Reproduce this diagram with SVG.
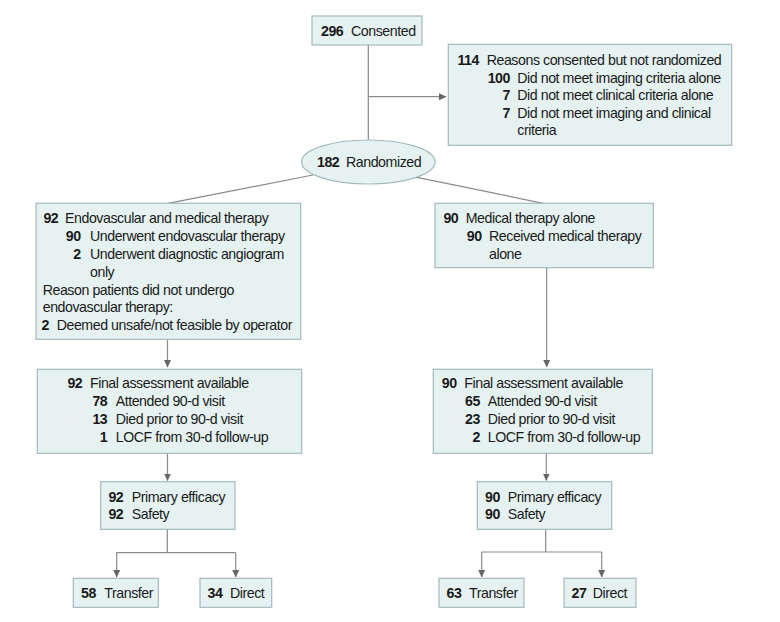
<svg xmlns="http://www.w3.org/2000/svg" width="780" height="622" viewBox="0 0 780 622">
<defs>
<marker id="ah" markerWidth="8" markerHeight="8" refX="7" refY="4" orient="auto" markerUnits="userSpaceOnUse">
<path d="M0,0.5 L7.5,4 L0,7.5 Z" fill="#666"/>
</marker>
</defs>
<style>
.box{fill:#e6f2f2;stroke:#a3babd;stroke-width:1.2}
text{font-family:"Liberation Sans",Arial,sans-serif;font-size:14.2px;letter-spacing:-0.45px;fill:#1a1a1a}
.b{font-weight:bold}
.e{text-anchor:end}
.ln{stroke:#8a8a8a;stroke-width:1.2;fill:none}
.ar{marker-end:url(#ah)}
</style>
<rect width="780" height="622" fill="#fff"/>
<g id="connectors">
<line class="ln" x1="368.3" y1="45" x2="368.3" y2="140"/>
<line class="ln ar" x1="368.3" y1="96.7" x2="446" y2="96.7"/>
<line class="ln" x1="313" y1="175" x2="168" y2="203.3"/>
<line class="ln" x1="413.3" y1="176.7" x2="543.3" y2="203.3"/>
<line class="ln ar" x1="167.5" y1="339.3" x2="167.5" y2="367"/>
<line class="ln ar" x1="546.7" y1="267.7" x2="546.7" y2="367"/>
<line class="ln ar" x1="167.5" y1="453.3" x2="167.5" y2="480.5"/>
<line class="ln ar" x1="546.3" y1="453.3" x2="546.3" y2="480.5"/>
<polyline class="ln" points="167.3,529.3 167.3,552.7"/>
<polyline class="ln" points="116.7,552.7 235.7,552.7"/>
<line class="ln ar" x1="116.7" y1="552.7" x2="116.7" y2="577"/>
<line class="ln ar" x1="235.7" y1="552.7" x2="235.7" y2="577"/>
<polyline class="ln" points="545.7,529.3 545.7,552"/>
<polyline class="ln" points="481.7,552 601.7,552"/>
<line class="ln ar" x1="481.7" y1="552" x2="481.7" y2="577"/>
<line class="ln ar" x1="601.7" y1="552" x2="601.7" y2="577"/>
</g>
<g id="consented">
<rect class="box" x="312" y="16" width="110" height="29"/>
<text class="b e" x="343.3" y="35.5">296</text>
<text x="351" y="35.5">Consented</text>
</g>
<g id="excluded">
<rect class="box" x="448.3" y="44.3" width="283.4" height="101"/>
<text class="b e" x="479" y="65">114</text>
<text x="486.7" y="65">Reasons consented but not randomized</text>
<text class="b e" x="510" y="82.5">100</text>
<text x="517.3" y="82.5">Did not meet imaging criteria alone</text>
<text class="b e" x="510" y="100">7</text>
<text x="517.3" y="100">Did not meet clinical criteria alone</text>
<text class="b e" x="510" y="117.5">7</text>
<text x="517.3" y="117.5">Did not meet imaging and clinical</text>
<text x="517.3" y="135">criteria</text>
</g>
<g id="randomized">
<ellipse class="box" cx="368.3" cy="162" rx="66.7" ry="22"/>
<text class="b e" x="339.3" y="166.5">182</text>
<text x="346" y="166.5">Randomized</text>
</g>
<g id="endovascular">
<rect class="box" x="36" y="203.3" width="264.7" height="136"/>
<text class="b e" x="58.3" y="223.3">92</text>
<text x="65" y="223.3">Endovascular and medical therapy</text>
<text class="b e" x="80.7" y="241.2">90</text>
<text x="90" y="241.2">Underwent endovascular therapy</text>
<text class="b e" x="80.7" y="259">2</text>
<text x="90" y="259">Underwent diagnostic angiogram</text>
<text x="90" y="276.7">only</text>
<text x="42.7" y="294.5">Reason patients did not undergo</text>
<text x="42.7" y="312.2">endovascular therapy:</text>
<text class="b e" x="49" y="330">2</text>
<text x="56.7" y="330">Deemed unsafe/not feasible by operator</text>
</g>
<g id="medical">
<rect class="box" x="435" y="203.3" width="218.3" height="64.4"/>
<text class="b e" x="458.3" y="223.3">90</text>
<text x="465.7" y="223.3">Medical therapy alone</text>
<text class="b e" x="481.7" y="241">90</text>
<text x="489" y="241">Received medical therapy</text>
<text x="489" y="258.5">alone</text>
</g>
<g id="final-left">
<rect class="box" x="37.3" y="369.3" width="264.4" height="84"/>
<text class="b e" x="82.3" y="388.3">92</text>
<text x="90" y="388.3">Final assessment available</text>
<text class="b e" x="107.3" y="406">78</text>
<text x="115.7" y="406">Attended 90-d visit</text>
<text class="b e" x="107.3" y="423.8">13</text>
<text x="115.7" y="423.8">Died prior to 90-d visit</text>
<text class="b e" x="107.3" y="441.6">1</text>
<text x="115.7" y="441.6">LOCF from 30-d follow-up</text>
</g>
<g id="final-right">
<rect class="box" x="433.3" y="369.3" width="219" height="84"/>
<text class="b e" x="456.7" y="388.3">90</text>
<text x="464.3" y="388.3">Final assessment available</text>
<text class="b e" x="480" y="406">65</text>
<text x="487.7" y="406">Attended 90-d visit</text>
<text class="b e" x="480" y="423.8">23</text>
<text x="487.7" y="423.8">Died prior to 90-d visit</text>
<text class="b e" x="480" y="441.6">2</text>
<text x="487.7" y="441.6">LOCF from 30-d follow-up</text>
</g>
<g id="analysis-left">
<rect class="box" x="100.7" y="481.7" width="134.3" height="47.6"/>
<text class="b e" x="123.3" y="501.7">92</text>
<text x="131.7" y="501.7">Primary efficacy</text>
<text class="b e" x="123.3" y="519.3">92</text>
<text x="131.7" y="519.3">Safety</text>
</g>
<g id="analysis-right">
<rect class="box" x="477.3" y="481.7" width="134.4" height="47.6"/>
<text class="b e" x="500" y="501.7">90</text>
<text x="507.7" y="501.7">Primary efficacy</text>
<text class="b e" x="500" y="519.3">90</text>
<text x="507.7" y="519.3">Safety</text>
</g>
<g id="transfer-left">
<rect class="box" x="73.3" y="578.3" width="85" height="29"/>
<text class="b e" x="96" y="597.5">58</text>
<text x="104.3" y="597.5">Transfer</text>
</g>
<g id="direct-left">
<rect class="box" x="200" y="578.3" width="71.7" height="29"/>
<text class="b e" x="222.5" y="597.5">34</text>
<text x="230" y="597.5">Direct</text>
</g>
<g id="transfer-right">
<rect class="box" x="439" y="578.3" width="85" height="29"/>
<text class="b e" x="461.5" y="597.5">63</text>
<text x="469" y="597.5">Transfer</text>
</g>
<g id="direct-right">
<rect class="box" x="564" y="578.3" width="72" height="29"/>
<text class="b e" x="586.5" y="597.5">27</text>
<text x="592.7" y="597.5">Direct</text>
</g>
</svg>
